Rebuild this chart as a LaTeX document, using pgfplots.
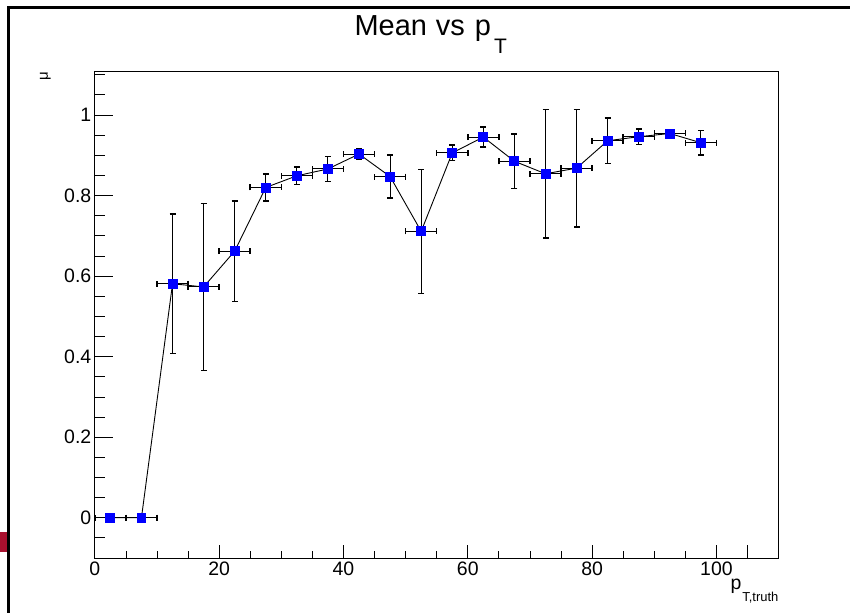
\documentclass[border=0pt]{standalone}
\usepackage{fontspec}
\setmainfont{Liberation Sans}
\usepackage{pgfplots}
\pgfplotsset{compat=1.18}
\definecolor{rootred}{RGB}{168,16,46}

\pgfplotstableread{
x     y      ex   ey
2.5   0.000  2.5  0.000
7.5   0.000  2.5  0.000
12.5  0.581  2.5  0.173
17.5  0.573  2.5  0.207
22.5  0.662  2.5  0.125
27.5  0.820  2.5  0.034
32.5  0.849  2.5  0.022
37.5  0.866  2.5  0.031
42.5  0.903  2.5  0.012
47.5  0.847  2.5  0.053
52.5  0.711  2.5  0.154
57.5  0.906  2.5  0.019
62.5  0.945  2.5  0.025
67.5  0.885  2.5  0.068
72.5  0.854  2.5  0.159
77.5  0.868  2.5  0.146
82.5  0.936  2.5  0.056
87.5  0.946  2.5  0.019
92.5  0.954  2.5  0.006
97.5  0.931  2.5  0.031
}\meandata

\begin{document}
\begin{tikzpicture}
% canvas, pad border and the small red patch
\fill[white] (0pt,0pt) rectangle (851pt,614pt);
\fill[rootred] (0pt,61pt) rectangle (7pt,81pt);
\draw[line width=3pt] (8.5pt,0pt) -- (8.5pt,606.5pt) -- (851pt,606.5pt);

\begin{axis}[
    at={(95pt,55pt)}, anchor=south west,
    scale only axis,
    width=685pt, height=487pt,
    xmin=0, xmax=110,
    ymin=-0.1, ymax=1.107,
    xtick={0,20,...,100},
    ytick={0,0.2,0.4,0.6,0.8,1},
    minor x tick num=3,
    minor y tick num=3,
    extra y ticks={1.05,1.1,-0.05},
    extra y tick labels={},
    extra y tick style={major tick length=10.5pt},
    extra x ticks={105},
    extra x tick labels={},
    extra x tick style={major tick length=7pt},
    tick align=inside,
    xtick pos=bottom, ytick pos=left,
    major tick length=18pt,
    minor tick length=10pt,
    xtick style={/pgfplots/major tick length=13pt, /pgfplots/minor tick length=7pt},
    tick style={black, line width=0.8pt},
    axis line style={black, line width=1pt},
    /pgf/number format/assume math mode=true,
    ticklabel style={font=\fontsize{19.5}{22}\selectfont},
    clip=false,
]
\addplot[black, line width=0.9pt,
    mark=square*, mark size=4.5pt,
    mark options={blue, fill=blue, draw=blue},
    error bars/.cd,
        x dir=both, x explicit,
        y dir=both, y explicit,
        error mark=|,
        error bar style={black, line width=1pt},
        error mark options={black, line width=1.5pt, mark size=3pt},
] table[x=x, y=y, x error=ex, y error=ey] {\meandata};
\end{axis}

\node[anchor=base west, inner sep=0pt, font=\fontsize{29}{33}\selectfont]
    at (355pt,578.3pt) {Mean\hspace{9pt}vs\hspace{10pt}p\hspace{3pt}\raisebox{-17.6pt}{\fontsize{21}{24}\selectfont T}};
\node[anchor=base east, inner sep=0pt, font=\fontsize{19.5}{22}\selectfont]
    at (780pt,23pt) {p\hspace{1pt}\raisebox{-12pt}{\fontsize{13}{15}\selectfont T,truth}};
\node[rotate=90, inner sep=0pt, font=\fontsize{15}{17}\selectfont]
    at (45.5pt,538pt) {μ};
\end{tikzpicture}
\end{document}
